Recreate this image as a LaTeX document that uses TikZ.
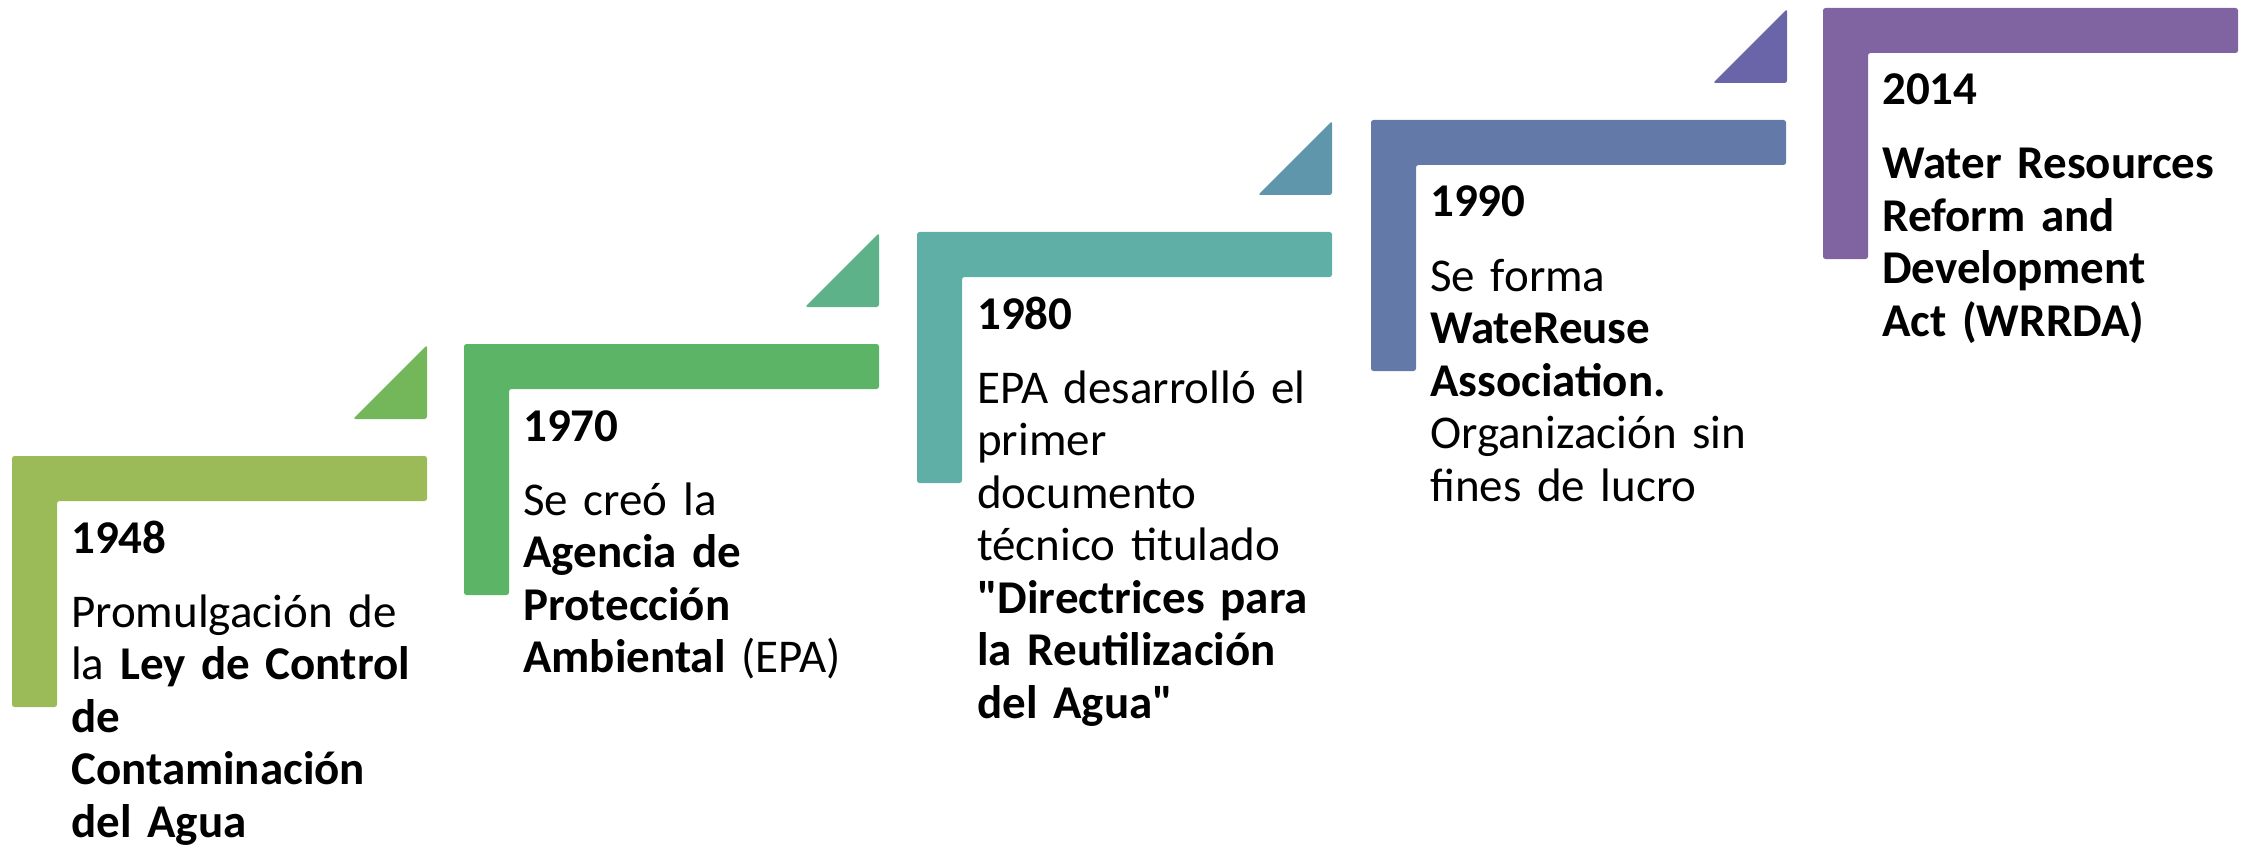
\documentclass[tikz,border=0pt]{standalone}
\usepackage{fontspec}
\setmainfont{Carlito}
\newfontfamily\carl{Carlito}
\definecolor{cA}{HTML}{9BBB59}
\definecolor{tA}{HTML}{74B65A}
\definecolor{cB}{HTML}{5CB567}
\definecolor{tB}{HTML}{5DB28A}
\definecolor{cC}{HTML}{5FAFA6}
\definecolor{tC}{HTML}{6096AB}
\definecolor{cD}{HTML}{637AA8}
\definecolor{tD}{HTML}{6A64A8}
\definecolor{cE}{HTML}{8064A2}
\tikzset{
  elbow/.style={rounded corners=2.5pt},
  wedge/.style={rounded corners=2.5pt},
  yearlabel/.style={anchor=base west, inner sep=0pt, font=\carl\bfseries\fontsize{47}{52.5}\selectfont},
  bodytext/.style={anchor=base west, inner sep=0pt, align=left, text width=420pt, font=\carl\fontsize{47}{52.5}\selectfont},
}
\newcommand\drawelbow[3]{% x, y, color
  \fill[elbow,#3] (#1,#2) -- ++(415,0) -- ++(0,45) -- ++(-370,0) -- ++(0,206) -- ++(-45,0) -- cycle;
}
\newcommand\drawwedge[3]{% right x, top y, color
  \fill[wedge,#3] (#1,#2) -- ++(0,74) -- ++(-74,0) -- cycle;
}
\begin{document}
\begin{tikzpicture}[x=1pt,y=-1pt]
\useasboundingbox (0,0) rectangle (2249,845);
% elbows
\drawelbow{12}{456}{cA}
\drawelbow{464}{344}{cB}
\drawelbow{917}{232}{cC}
\drawelbow{1371}{120}{cD}
\drawelbow{1823}{8}{cE}
% wedges
\drawwedge{427}{345}{tA}
\drawwedge{879}{233}{tB}
\drawwedge{1332}{121}{tC}
\drawwedge{1787}{9}{tD}
% texts
\node[yearlabel] (y1) at (71,553) {1948};
\node[bodytext] (b1) at (71,627) {Promulgación de\\la \textbf{Ley de Control}\\\textbf{de}\\\textbf{Contaminación}\\\textbf{del Agua}};
\node[yearlabel] (y2) at (523,441) {1970};
\node[bodytext] (b2) at (523,515) {Se creó la\\\textbf{Agencia de}\\\textbf{Protección}\\\textbf{Ambiental} (EPA)};
\node[yearlabel] (y3) at (977,329) {1980};
\node[bodytext] (b3) at (977,403) {EPA desarrolló el\\primer\\documento\\técnico titulado\\\textbf{"Directrices para}\\\textbf{la Reutilización}\\\textbf{del Agua"}};
\node[yearlabel] (y4) at (1430,217) {1990};
\node[bodytext] (b4) at (1430,291) {Se forma\\\textbf{WateReuse}\\\textbf{Association.}\\Organización sin\\fines de lucro};
\node[yearlabel] (y5) at (1882,105) {2014};
\node[bodytext] (b5) at (1882,179) {\textbf{Water Resources}\\\textbf{Reform and}\\\textbf{Development}\\\textbf{Act (WRRDA)}};
\end{tikzpicture}
\end{document}
